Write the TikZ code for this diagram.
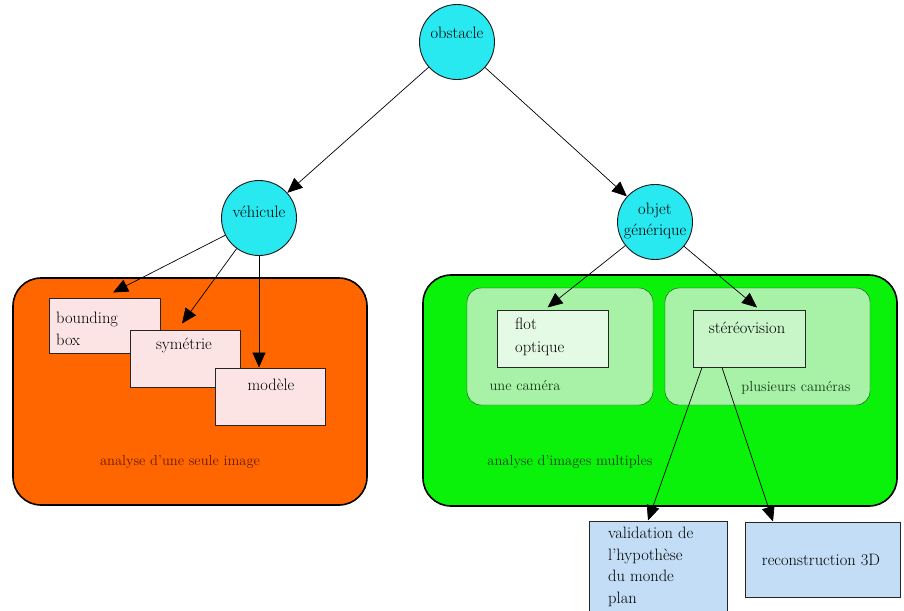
\documentclass[tikz,border=0pt]{standalone}
\usetikzlibrary{arrows.meta}

\definecolor{bubblefill}{RGB}{40,232,240}
\definecolor{orangefill}{RGB}{255,102,0}
\definecolor{greenfill}{RGB}{10,242,10}
\definecolor{palegreen}{RGB}{168,242,168}
\definecolor{pinkfill}{RGB}{253,228,228}
\definecolor{flotfill}{RGB}{228,250,228}
\definecolor{stereofill}{RGB}{200,246,200}
\definecolor{bluefill}{RGB}{194,221,245}
\definecolor{darkred}{RGB}{100,25,0}
\definecolor{darkgreen}{RGB}{20,60,20}

\begin{document}
\begin{tikzpicture}[x=1pt,y=-1pt,
  bubble/.style={circle,draw=black!90,line width=0.9pt,fill=bubblefill,minimum size=75pt,inner sep=0pt},
  bigbox/.style={draw=black,line width=1.6pt,rounded corners=28pt,inner sep=0pt},
  subbox/.style={draw=darkgreen,fill=palegreen,rounded corners=14pt,inner sep=0pt},
  stepbox/.style={draw=black!85,line width=1pt,inner sep=0pt},
  link/.style={draw=black,line width=0.7pt,-{Triangle[length=15pt,width=13pt]}},
  txt/.style={font=\fontsize{16.5}{21.5}\selectfont,text=black,align=left,inner sep=0pt},
  small/.style={font=\fontsize{14.5}{17}\selectfont,inner sep=0pt}]

  \useasboundingbox (0,0) rectangle (904,610);
  \fill[white] (0,0) rectangle (904,610);

  % the two groups
  \node[bigbox,fill=orangefill,minimum width=354pt,minimum height=227pt] (single) at (190,391.5) {};
  \node[bigbox,fill=greenfill,minimum width=474pt,minimum height=231pt] (multi) at (660,390.5) {};
  \node[subbox,minimum width=186pt,minimum height=117pt] (onecam) at (560,346.5) {};
  \node[subbox,minimum width=205pt,minimum height=117pt] (manycam) at (767.5,346.5) {};

  % circles
  \node[bubble] (obstacle) at (457,42) {};
  \node[txt] at (457,33) {obstacle};
  \node[bubble] (vehicule) at (259,218) {};
  \node[txt] at (259,212) {véhicule};
  \node[bubble] (objet) at (655,222) {};
  \node[txt,align=center] at (655,221) {objet\\générique};

  % methods
  \node[stepbox,fill=pinkfill,minimum width=111pt,minimum height=55pt] (bbox) at (104.5,325.5) {};
  \node[txt,anchor=north west] at (56,312) {bounding\\box};
  \node[stepbox,fill=pinkfill,minimum width=110pt,minimum height=57pt] (sym) at (185,358.5) {};
  \node[txt] at (184,345) {symétrie};
  \node[stepbox,fill=pinkfill,minimum width=110pt,minimum height=57pt] (modele) at (270,396.5) {};
  \node[txt] at (271,385) {modèle};

  \node[stepbox,fill=flotfill,minimum width=111pt,minimum height=57pt] (flot) at (552.5,338.5) {};
  \node[txt,anchor=north west] at (515,318) {flot\\[1pt]optique};
  \node[stepbox,fill=stereofill,minimum width=112pt,minimum height=57pt] (stereo) at (749,338.5) {};
  \node[txt] at (747,328) {stéréovision};

  \node[stepbox,fill=bluefill,minimum width=138pt,minimum height=91pt] (valid) at (658,566.5) {};
  \node[txt,anchor=north west] at (608,527) {validation de\\l'hypothèse\\du monde\\plan};
  \node[stepbox,fill=bluefill,minimum width=155pt,minimum height=75pt] (recon) at (822.5,559.5) {};
  \node[txt] at (821,560) {reconstruction 3D};

  % group labels
  \node[small,text=darkred] at (180,462) {analyse d'une seule image};
  \node[small,text=darkgreen] at (570,462) {analyse d'images multiples};
  \node[small,text=darkgreen] at (525,386) {une caméra};
  \node[small,text=darkgreen] at (796,388) {plusieurs caméras};

  % arrows
  \draw[link] (obstacle) -- (vehicule);
  \draw[link] (obstacle) -- (objet);
  \draw[link] (vehicule) -- ([xshift=8.5pt,yshift=5pt]bbox.north);
  \draw[link] (vehicule) -- ([xshift=-3pt,yshift=6pt]sym.north);
  \draw[link] (vehicule) -- (vehicule |- modele.north);
  \draw[link] (objet) -- ([xshift=-5pt,yshift=2pt]flot.north);
  \draw[link] (objet) -- ([xshift=8pt,yshift=2pt]stereo.north);
  \draw[link] ([xshift=-47pt]stereo.south) -- ([xshift=-10pt]valid.north);
  \draw[link] ([xshift=-27pt]stereo.south) -- ([xshift=-49.5pt]recon.north);
\end{tikzpicture}
\end{document}
